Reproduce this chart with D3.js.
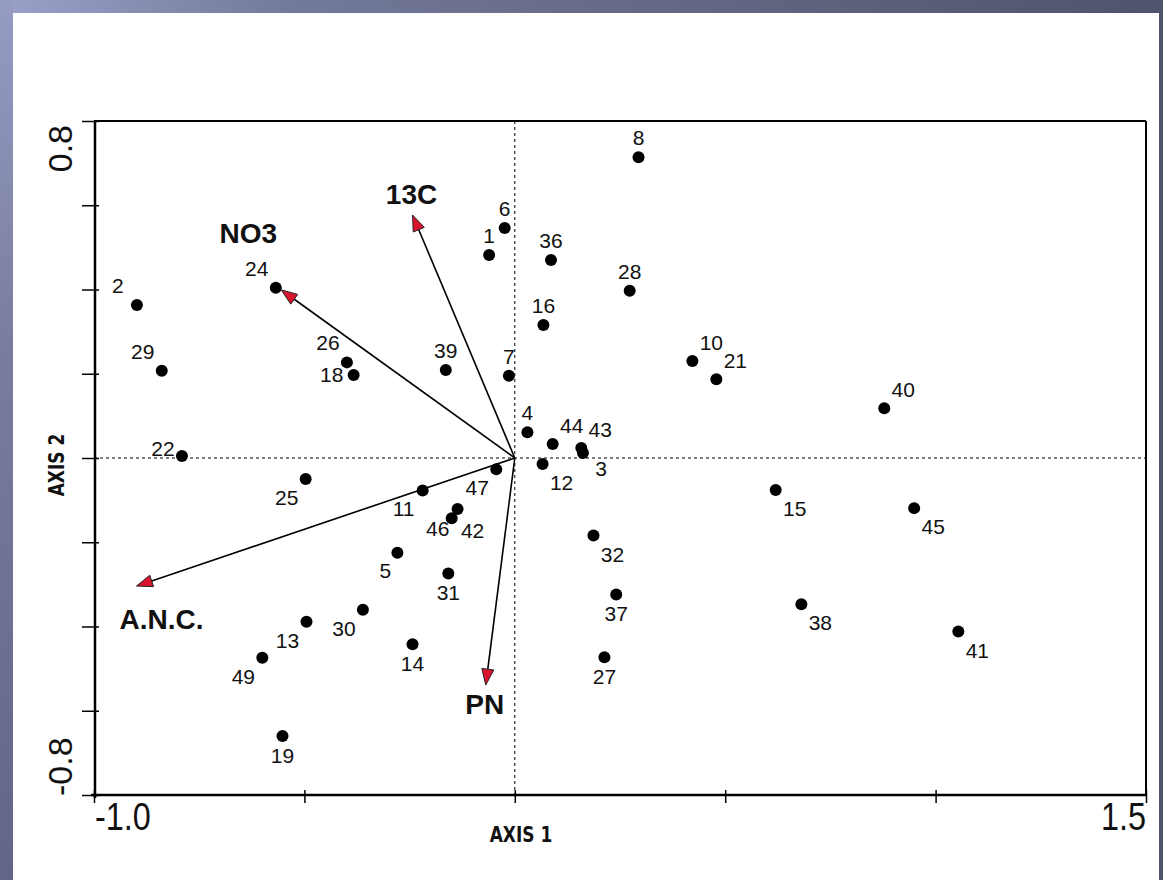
<!DOCTYPE html>
<html>
<head>
<meta charset="utf-8">
<script src="https://cdn.jsdelivr.net/npm/d3@7/dist/d3.min.js"></script>
<style>
  html, body { margin: 0; padding: 0; background: #ffffff; }
  svg { display: block; }
</style>
</head>
<body>
<svg id="chart" width="1163" height="880"></svg>
<script>
// ---------------- DATA ----------------
const siteIds = ["1","2","3","4","5","6","7","8","10","11","12","13","14","15","16","18","19","21","22","24","25","26","27","28","29","30","31","32","36","37","38","39","40","41","42","43","44","45","46","47","49"];
const axis1 = [-0.061,-0.898,0.162,0.030,-0.279,-0.024,-0.014,0.294,0.422,-0.219,0.066,-0.495,-0.243,0.620,0.068,-0.383,-0.552,0.479,-0.791,-0.568,-0.497,-0.399,0.213,0.273,-0.839,-0.361,-0.158,0.187,0.086,0.241,0.681,-0.164,0.878,1.054,-0.136,0.158,0.090,0.949,-0.150,-0.044,-0.600];
const axis2 = [0.482,0.363,0.012,0.061,-0.225,0.546,0.195,0.714,0.230,-0.077,-0.014,-0.389,-0.442,-0.076,0.316,0.197,-0.660,0.187,0.005,0.404,-0.050,0.227,-0.473,0.397,0.207,-0.360,-0.274,-0.184,0.470,-0.324,-0.347,0.209,0.118,-0.412,-0.121,0.024,0.033,-0.119,-0.143,-0.027,-0.474];

const vecNames = ["NO3","13C","A.N.C.","PN"];
const vecAxis1 = [-0.555,-0.243,-0.899,-0.069];
const vecAxis2 = [0.399,0.577,-0.304,-0.539];

const xTicks = [-1.0,-0.5,0,0.5,1.0,1.5];
const xTickLabels = ["-1.0","","","","","1.5"];
const yTicks = [-0.8,-0.6,-0.4,-0.2,0,0.2,0.4,0.6,0.8];
const yTickLabels = ["-0.8","","","","","","","","0.8"];
const xTitle = "AXIS 1";
const yTitle = "AXIS 2";

// ---------------- LAYOUT (label placement, not data) ----------------
const dirOffsets = {N:[0,-12], NW:[-19,-12], NE:[19,-11], S:[0,27], SW:[-19,26], SE:[19,26], W:[-19,0]};
const labelDir = {
  "1":"N","2":"NW","3":[18,23],"4":"N","5":[-12,25],"6":"N","7":"N","8":"N","10":"NE","11":"SW",
  "12":"SE","13":"SW","14":"S","15":"SE","16":"N","18":[-22,7],"19":"S","21":"NE","22":"W","24":"NW",
  "25":"SW","26":"NW","27":"S","28":"N","29":"NW","30":"SW","31":"S","32":"SE","36":"N","37":"S",
  "38":"SE","39":"N","40":"NE","41":"SE","42":[15,29],"43":"NE","44":"NE","45":"SE","46":[-14,18],
  "47":"SW","49":"SW"
};
const vecLabelOffsets = {"NO3":[-33,-47],"13C":[-1,-11],"A.N.C.":[25,43],"PN":[-1,29]};

// ---------------- DRAW ----------------
const W = 1163, H = 880;
const svg = d3.select("#chart");
const defs = svg.append("defs");

const gTop = defs.append("linearGradient").attr("id","gTop").attr("x1","0").attr("y1","0").attr("x2","1").attr("y2","0");
gTop.append("stop").attr("offset","0").attr("stop-color","#9aa1c9");
gTop.append("stop").attr("offset","0.25").attr("stop-color","#737999");
gTop.append("stop").attr("offset","0.6").attr("stop-color","#626783");
gTop.append("stop").attr("offset","1").attr("stop-color","#4f546d");
const gLeft = defs.append("linearGradient").attr("id","gLeft").attr("x1","0").attr("y1","0").attr("x2","0").attr("y2","1");
gLeft.append("stop").attr("offset","0").attr("stop-color","#959bc3");
gLeft.append("stop").attr("offset","0.4").attr("stop-color","#787c9e");
gLeft.append("stop").attr("offset","1").attr("stop-color","#62658a");

svg.append("rect").attr("x",0).attr("y",0).attr("width",W).attr("height",H).attr("fill","#ffffff");
svg.append("rect").attr("x",0).attr("y",0).attr("width",W).attr("height",13).attr("fill","url(#gTop)");
svg.append("rect").attr("x",0).attr("y",0).attr("width",13).attr("height",H).attr("fill","url(#gLeft)");
svg.append("rect").attr("x",1159).attr("y",0).attr("width",4).attr("height",H).attr("fill","#4f546d");

const x = d3.scaleLinear().domain([-1.0, 1.5]).range([94, 1146]);
const y = d3.scaleLinear().domain([-0.8, 0.8]).range([795, 121]);

// frame (top and right)
svg.append("line").attr("x1",x(-1)).attr("x2",x(1.5)).attr("y1",y(0.8)).attr("y2",y(0.8)).attr("stroke","#000").attr("stroke-width",2);
svg.append("line").attr("x1",x(1.5)).attr("x2",x(1.5)).attr("y1",y(0.8)).attr("y2",y(-0.8)).attr("stroke","#000").attr("stroke-width",2);

// dashed zero lines
svg.append("line").attr("x1",x(-1)).attr("x2",x(1.5)).attr("y1",y(0)).attr("y2",y(0))
  .attr("stroke","#000").attr("stroke-width",1).attr("stroke-dasharray","3,3");
svg.append("line").attr("x1",x(0)).attr("x2",x(0)).attr("y1",y(0.8)).attr("y2",y(-0.8))
  .attr("stroke","#000").attr("stroke-width",1).attr("stroke-dasharray","3,3");

// axes
const xAxis = d3.axisBottom(x).tickValues(xTicks).tickSize(8).tickFormat(() => "");
const gx = svg.append("g").attr("transform",`translate(0,${y(-0.8)})`).call(xAxis);
gx.select(".domain").attr("stroke","#000").attr("stroke-width",2.5).attr("d",`M${x(-1)-3},0H${x(1.5)}`);
gx.selectAll(".tick line").attr("y1",-5).attr("stroke-width",1.5);

const yAxis = d3.axisLeft(y).tickValues(yTicks).tickSize(13).tickFormat(() => "");
const gy = svg.append("g").attr("transform",`translate(${x(-1)+1},0)`).call(yAxis);
gy.select(".domain").attr("stroke","#000").attr("stroke-width",2.5).attr("d",`M0,${y(0.8)}V${y(-0.8)+3}`);
gy.selectAll(".tick line").attr("x1",4).attr("stroke-width",1.5);

// tick labels
const tickFont = "'Liberation Sans', Arial, sans-serif";
const xLab = xTicks.map((v,i)=>({v, t:xTickLabels[i], i})).filter(d => d.t !== "");
svg.selectAll("text.xtl").data(xLab).join("text").attr("class","xtl")
  .attr("x", 0).attr("y", 0)
  .attr("text-anchor", d => d.i === 0 ? "start" : "end")
  .attr("font-family", tickFont).attr("font-size", 36).attr("fill","#111")
  .attr("transform", d => `translate(${x(d.v) + (d.i === 0 ? 1 : 0)},830) scale(0.9,1.1)`)
  .text(d => d.t);
const yLab = yTicks.map((v,i)=>({v, t:yTickLabels[i], i})).filter(d => d.t !== "");
svg.selectAll("text.ytl").data(yLab).join("text").attr("class","ytl")
  .attr("transform", d => `translate(72,${y(d.v) + (d.i===0 ? 1 : 4)}) rotate(-90)`)
  .attr("text-anchor", d => d.i === 0 ? "start" : "end")
  .attr("font-family", tickFont).attr("font-size", 34).attr("fill","#111")
  .text(d => d.t);

// axis titles
const titleFont = "'DejaVu Sans Condensed', 'DejaVu Sans', sans-serif";
svg.append("text").attr("x", 521).attr("y", 842).attr("text-anchor","middle")
  .attr("font-family", titleFont).attr("font-weight","bold").attr("font-size",21).attr("fill","#111")
  .attr("transform","translate(521,842) scale(0.9,1) translate(-521,-842)")
  .text(xTitle);
svg.append("text").attr("transform","translate(64,465) rotate(-90) scale(0.9,1)").attr("text-anchor","middle")
  .attr("font-family", titleFont).attr("font-weight","bold").attr("font-size",21).attr("fill","#111")
  .text(yTitle);

// points
const pts = siteIds.map((id,i)=>({id, a1:axis1[i], a2:axis2[i]}));
svg.append("g").selectAll("circle").data(pts).join("circle")
  .attr("cx", d => x(d.a1)).attr("cy", d => y(d.a2)).attr("r", 6).attr("fill","#000");

svg.append("g").selectAll("text").data(pts).join("text")
  .attr("x", d => { const o = labelDir[d.id]; const off = Array.isArray(o) ? o : dirOffsets[o]; return x(d.a1) + off[0]; })
  .attr("y", d => { const o = labelDir[d.id]; const off = Array.isArray(o) ? o : dirOffsets[o]; return y(d.a2) + off[1]; })
  .attr("text-anchor","middle")
  .attr("font-family", tickFont).attr("font-size", 21).attr("fill","#111")
  .text(d => d.id);

// vectors
const vecs = vecNames.map((n,i)=>({n, a1:vecAxis1[i], a2:vecAxis2[i]}));
const headLen = 16, headHalf = 6;
const gv = svg.append("g");
vecs.forEach(v => {
  const x0 = x(0), y0 = y(0), x1 = x(v.a1), y1 = y(v.a2);
  const dx = x1 - x0, dy = y1 - y0, L = Math.hypot(dx, dy);
  const ux = dx / L, uy = dy / L;
  const bx = x1 - ux*headLen, by = y1 - uy*headLen;
  gv.append("line").attr("x1",x0).attr("y1",y0).attr("x2",bx).attr("y2",by)
    .attr("stroke","#000").attr("stroke-width",1.6);
  const p = [[x1,y1],[bx - uy*headHalf, by + ux*headHalf],[bx + uy*headHalf, by - ux*headHalf]];
  gv.append("path").attr("d", d3.line()(p) + "Z")
    .attr("fill","#d9142e").attr("stroke","#222").attr("stroke-width",1);
  const off = vecLabelOffsets[v.n];
  gv.append("text").attr("x", x1 + off[0]).attr("y", y1 + off[1]).attr("text-anchor","middle")
    .attr("font-family", tickFont).attr("font-weight","bold").attr("font-size",28).attr("fill","#111")
    .text(v.n);
});
</script>
</body>
</html>
